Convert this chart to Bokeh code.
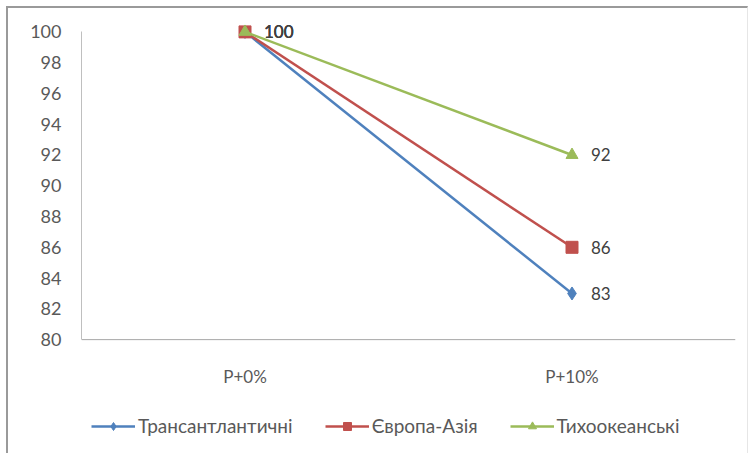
from bokeh.plotting import figure
from bokeh.models import FactorRange, Range1d, FixedTicker, Legend, LegendItem, ColumnDataSource, Span
from bokeh.core.properties import value
from bokeh.embed import file_html
from bokeh.resources import INLINE

categories = ["P+0%", "P+10%"]
series_names = ["Трансантлантичні", "Європа-Азія", "Тихоокеанські"]
transatlantic = [100, 83]
europe_asia = [100, 86]
pacific = [100, 92]
y_ticks = [80, 82, 84, 86, 88, 90, 92, 94, 96, 98, 100]
y_min, y_max = 80, 100

colors = ["#4F81BD", "#C0504D", "#9BBB59"]
markers = ["diamond", "square", "triangle"]
sizes = [13, 12, 12]
FONT = "Lato"
TXT = "#595959"

# frame extends below the value axis so the legend can sit inside it
p = figure(frame_width=654, frame_height=437, x_range=FactorRange(*categories),
           y_range=Range1d(72.6, 101), x_axis_location=None,
           output_backend="svg", toolbar_location=None,
           min_border_left=73, min_border_right=12, min_border_top=8, min_border_bottom=0)
p.styles = {"margin-left": "6px", "margin-top": "6px",
            "border-left": "2px solid #9a9a9a", "border-top": "2px solid #9a9a9a",
            "border-right": "1px solid #e6e6e6"}
p.outline_line_color = None
p.grid.grid_line_color = None

p.yaxis.ticker = FixedTicker(ticks=y_ticks)
p.yaxis.bounds = (y_min, y_max)
p.yaxis.axis_line_color = "#bfbfbf"
p.yaxis.major_tick_line_color = None
p.yaxis.minor_tick_line_color = None
p.yaxis.major_label_text_font = FONT
p.yaxis.major_label_text_font_size = "18px"
p.yaxis.major_label_text_color = TXT
p.yaxis.major_label_standoff = 14

# category axis line and labels
p.add_layout(Span(location=y_min, dimension="width", line_color="#a6a6a6", line_width=1))
cat_src = ColumnDataSource(dict(x=categories, y=[y_min] * len(categories), lab=categories))
p.text("x", "y", text="lab", source=cat_src, y_offset=37, text_align="center", text_baseline="middle",
       text_font=value(FONT), text_font_size="17px", text_color=TXT)

items = []
for name, vals, c, m, s in zip(series_names, [transatlantic, europe_asia, pacific], colors, markers, sizes):
    src = ColumnDataSource(dict(x=categories, y=vals, lab=[str(v) for v in vals]))
    r1 = p.line("x", "y", source=src, line_color=c, line_width=2.5)
    r2 = p.scatter("x", "y", source=src, marker=m, size=s, fill_color=c, line_color=c)
    p.text("x", "y", text="lab", source=src, x_offset=19, text_align="left", text_baseline="middle",
           text_font=value(FONT), text_font_size="17px", text_color="#404040")
    items.append(LegendItem(label=name, renderers=[r1, r2]))

legend = Legend(items=items, orientation="horizontal", location=(10, 16),
                label_text_font=FONT, label_text_font_size="19px", label_text_color=TXT,
                glyph_width=44, spacing=32, border_line_color=None, background_fill_alpha=0,
                margin=0, padding=0, label_standoff=3)
p.add_layout(legend, "center")

open("out.html", "w").write(file_html(p, INLINE))
